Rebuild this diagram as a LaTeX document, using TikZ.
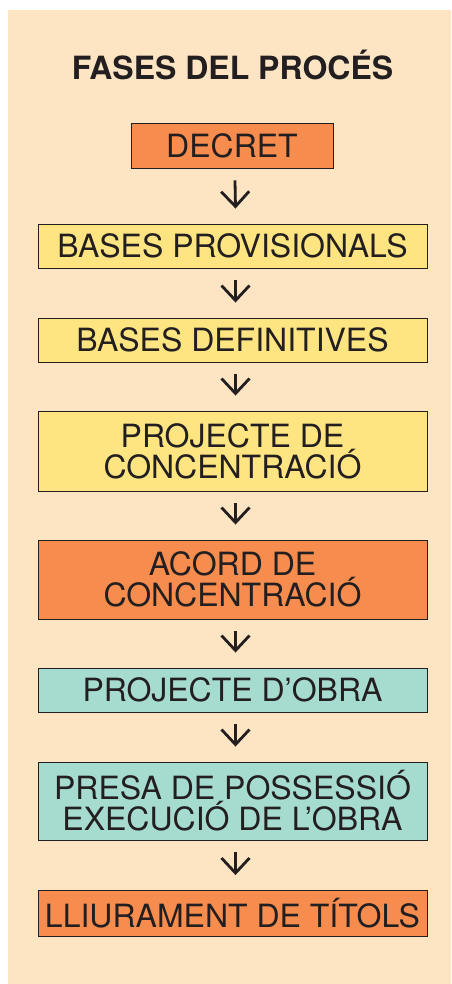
\documentclass[tikz,border=0pt]{standalone}
\usepackage{fontspec}
\setmainfont{TeX Gyre Heros}
\usetikzlibrary{arrows.meta}

\definecolor{fons}{HTML}{FDE4C3}
\definecolor{taronja}{HTML}{F68C4D}
\definecolor{groc}{HTML}{FEE582}
\definecolor{verd}{HTML}{A6DBCF}
\definecolor{tinta}{HTML}{231F20}

\tikzset{
	fase/.style={draw=tinta, line width=0.9pt, inner sep=0pt, minimum width=389pt,
		text=tinta, align=center, font=\fontsize{32}{29.5}\selectfont},
	fletxa/.style={draw=tinta, line width=2.8pt,
		-{Straight Barb[length=15pt,width=28pt]}}
}

\begin{document}
\begin{tikzpicture}[x=1pt,y=1pt]
	\useasboundingbox (0,0) rectangle (451,-984);
	% Fons
	\fill [fons] (8,-10) rectangle (451,-984);

	% Titol
	\node [text=tinta, font=\fontsize{32}{32}\selectfont\bfseries, anchor=base] (titol) at (232.5,-80) {FASES DEL PROCÉS};

	% Fases
	\node [fase, fill=taronja, minimum width=202pt, minimum height=45pt] (decret) at (232,-145.5) {DECRET};
	\node [fase, fill=groc, minimum height=44pt] (bprov) at (232.5,-246) {BASES PROVISIONALS};
	\node [fase, fill=groc, minimum height=44pt] (bdef) at (232.5,-340) {BASES DEFINITIVES};
	\node [fase, fill=groc, minimum height=80pt] (pconc) at (232.5,-451) {PROJECTE DE\\CONCENTRACIÓ};
	\node [fase, fill=taronja, minimum height=79pt] (acord) at (232.5,-579.5) {ACORD DE\\CONCENTRACIÓ};
	\node [fase, fill=verd, minimum height=44pt] (pobra) at (232.5,-690) {PROJECTE D’OBRA};
	\node [fase, fill=verd, minimum height=78pt] (presa) at (232.5,-801) {PRESA DE POSSESSIÓ\\EXECUCIÓ DE L’OBRA};
	\node [fase, fill=taronja, minimum height=46pt] (lliur) at (232.5,-913.5) {LLIURAMENT DE TÍTOLS};

	% Fletxes
	\foreach \a/\b in {decret/bprov, bprov/bdef, bdef/pconc, pconc/acord, acord/pobra, pobra/presa, presa/lliur}
		\draw [fletxa] ([xshift=3pt,yshift=-12pt]\a.south) -- ([xshift=3pt,yshift=15pt]\b.north);
\end{tikzpicture}
\end{document}
